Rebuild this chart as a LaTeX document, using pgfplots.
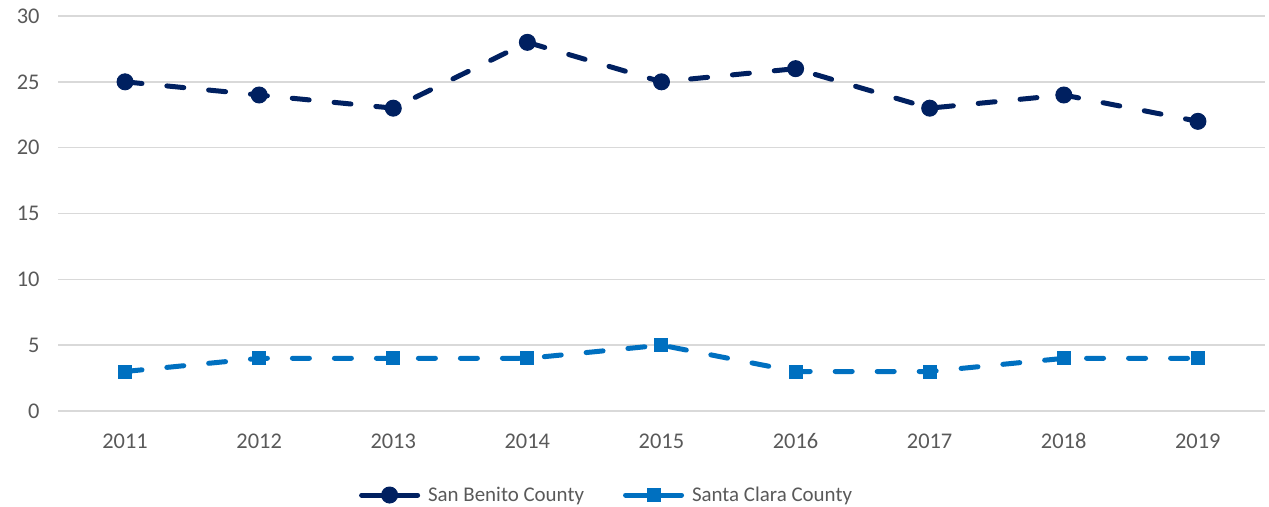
\documentclass[border=0pt]{standalone}
\usepackage{fontspec}
\setmainfont{Carlito}
\usepackage{pgfplots}
\pgfplotsset{compat=1.18}
\definecolor{benito}{HTML}{002060}
\definecolor{clara}{HTML}{0070C0}
\definecolor{txtgrey}{HTML}{595959}
\definecolor{gridgrey}{HTML}{D9D9D9}

\begin{document}
\begin{tikzpicture}[font=\fontsize{21}{25}\selectfont]
  \useasboundingbox (-58bp,-96bp) rectangle (1211bp,411bp);
  \begin{axis}[
    at={(0,0)}, anchor=south west,
    scale only axis, width=1207bp, height=395bp,
    xmin=2010.5, xmax=2019.5, ymin=0, ymax=30,
    xtick={2011,2012,...,2019}, ytick={0,5,...,30},
    axis line style={draw=none},
    major tick length=0pt,
    ymajorgrids, grid style={gridgrey, line width=1.4bp},
    /pgf/number format/assume math mode=true,
    /pgf/number format/set thousands separator={},
    tick label style={text=txtgrey, font=\fontsize{22.5}{26}\selectfont},
    xticklabel style={anchor=base, yshift=-37bp},
    yticklabel style={anchor=east, xshift=-15bp},
    legend columns=2,
    legend style={draw=none, fill=none, text=txtgrey,
      at={(0.4545,-0.2127)}, anchor=center,
      /tikz/every odd column/.append style={column sep=6bp},
      /tikz/every even column/.append style={column sep=37bp}},
    legend image code/.code={
      \draw[#1, solid] (0bp,0bp) -- (56bp,0bp);
      \path[#1] plot coordinates {(28bp,0bp)};},
  ]
    \addplot[benito, line width=5bp, line cap=round,
      dash pattern=on 17bp off 25bp,
      mark=*, mark size=8bp, mark options={solid, fill=benito, line width=1bp}]
      coordinates {(2011,25) (2012,24) (2013,23) (2014,28) (2015,25)
                   (2016,26) (2017,23) (2018,24) (2019,22)};
    \addplot[clara, line width=5bp, line cap=round,
      dash pattern=on 17bp off 25bp,
      mark=square*, mark size=6.5bp, mark options={solid, fill=clara, line width=1bp}]
      coordinates {(2011,3) (2012,4) (2013,4) (2014,4) (2015,5)
                   (2016,3) (2017,3) (2018,4) (2019,4)};
    \legend{San Benito County, Santa Clara County}
  \end{axis}
\end{tikzpicture}
\end{document}
